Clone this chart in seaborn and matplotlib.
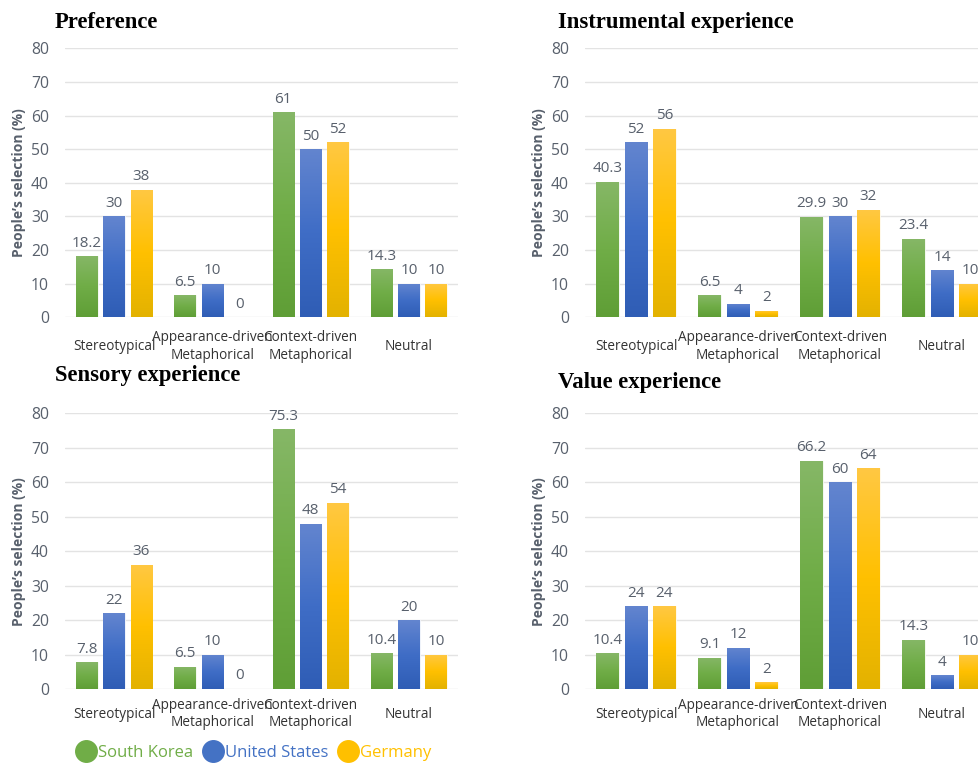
import numpy as np
import pandas as pd
import matplotlib
matplotlib.use("Agg")
import matplotlib.pyplot as plt
import seaborn as sns
from matplotlib.colors import LinearSegmentedColormap
from matplotlib.lines import Line2D

# ---------------- data ----------------
categories = ["Stereotypical", "Appearance-driven\nMetaphorical",
              "Context-driven\nMetaphorical", "Neutral"]
countries = ["South Korea", "United States", "Germany"]

preference_kr = [18.2, 6.5, 61, 14.3]
preference_us = [30, 10, 50, 10]
preference_de = [38, 0, 52, 10]

instrumental_kr = [40.3, 6.5, 29.9, 23.4]
instrumental_us = [52, 4, 30, 14]
instrumental_de = [56, 2, 32, 10]

sensory_kr = [7.8, 6.5, 75.3, 10.4]
sensory_us = [22, 10, 48, 20]
sensory_de = [36, 0, 54, 10]

value_kr = [10.4, 9.1, 66.2, 14.3]
value_us = [24, 12, 60, 4]
value_de = [24, 2, 64, 10]

panel_titles = ["Preference", "Instrumental experience",
                "Sensory experience", "Value experience"]
y_ticks = [0, 10, 20, 30, 40, 50, 60, 70, 80]
y_label = "People\u2019s selection (%)"

# ---------------- style ----------------
sns.set_theme(style="white")
plt.rcParams["font.family"] = ["Open Sans", "DejaVu Sans"]

base_colors = {"South Korea": "#70AD47", "United States": "#4472C4", "Germany": "#FFC000"}
grad_stops = {
    "South Korea": ["#5F9E36", "#70AD47", "#86B767"],
    "United States": ["#2F5DB5", "#3F6DC6", "#6385CF"],
    "Germany": ["#E3B200", "#FFC000", "#FFC843"],
}
tick_gray = "#58606C"
grid_col = "#E3E3E3"

W, H = 979, 764
fig = plt.figure(figsize=(W / 100, H / 100), dpi=100)

def fbox(l, t, r, b):
    return [l / W, 1 - b / H, (r - l) / W, (b - t) / H]

axes_boxes = [
    fbox(65, 48.3, 458, 317.3),
    fbox(585, 48.3, 993, 317.3),
    fbox(65, 413.3, 458, 689),
    fbox(585, 413.3, 993, 689),
]
title_pos = [(55, 28), (558, 28), (55, 381), (558, 388)]
x_pads = [21, 21, 18, 18]

panel_data = [
    (preference_kr, preference_us, preference_de),
    (instrumental_kr, instrumental_us, instrumental_de),
    (sensory_kr, sensory_us, sensory_de),
    (value_kr, value_us, value_de),
]

for i, (box, vals) in enumerate(zip(axes_boxes, panel_data)):
    ax = fig.add_axes(box)
    rows = []
    for country, series in zip(countries, vals):
        for cat, v in zip(categories, series):
            rows.append({"Category": cat, "Country": country, "Value": v})
    df = pd.DataFrame(rows)
    sns.barplot(data=df, x="Category", y="Value", hue="Country",
                order=categories, hue_order=countries,
                palette=base_colors, width=0.834, gap=0.21,
                errorbar=None, ax=ax, legend=False,
                edgecolor="white", linewidth=0.6, saturation=1)
    # gradient fill per bar
    for country, cont in zip(countries, ax.containers):
        cmap = LinearSegmentedColormap.from_list("g_" + country, grad_stops[country])
        grad = np.linspace(0, 1, 256).reshape(-1, 1)
        for p in cont.patches:
            x0, y0 = p.get_x(), p.get_y()
            w, h = p.get_width(), p.get_height()
            if h <= 0:
                continue
            im = ax.imshow(grad, cmap=cmap, origin="lower", aspect="auto",
                           extent=[x0, x0 + w, y0, y0 + h], zorder=p.get_zorder() + 0.1,
                           interpolation="bilinear")
            im.set_clip_path(p)
        labels = [f"{v:g}" for v in cont.datavalues]
        ax.bar_label(cont, labels=labels, padding=4, fontsize=11, color=tick_gray)
    ax.set_xlim(-0.5, 3.5)
    ax.set_ylim(0, 80)
    ax.set_yticks(y_ticks)
    ax.yaxis.grid(True, color=grid_col, linewidth=1)
    ax.set_axisbelow(True)
    for s in ax.spines.values():
        s.set_visible(False)
    ax.tick_params(axis="y", length=0, pad=11.5, labelsize=11.3, labelcolor=tick_gray)
    ax.tick_params(axis="x", length=0, pad=x_pads[i], labelsize=9.8, labelcolor="#333333")
    for lab in ax.get_xticklabels():
        lab.set_va("center")
        lab.set_multialignment("center")
    ax.set_xlabel("")
    ax.set_ylabel(y_label, fontsize=10, fontweight="bold", color=tick_gray)
    ax.yaxis.set_label_coords(-39 / (box[2] * W), 0.5)
    tx, ty = title_pos[i]
    fig.text(tx / W, 1 - ty / H, panel_titles[i], family="Liberation Serif",
             fontweight="bold", fontsize=16.3, color="black", va="baseline", ha="left")

handles = [Line2D([], [], linestyle="none", marker="o", markersize=15.5,
                  markerfacecolor=base_colors[c], markeredgecolor=base_colors[c])
           for c in countries]
fig.legend(handles, countries, loc="center", bbox_to_anchor=(253.5 / W, 1 - 753 / H),
           ncol=3, frameon=False, fontsize=12, handletextpad=0.1, columnspacing=0.6,
           labelcolor=[base_colors[c] for c in countries], handlelength=1.2)

fig.savefig("out.png", dpi=100)
